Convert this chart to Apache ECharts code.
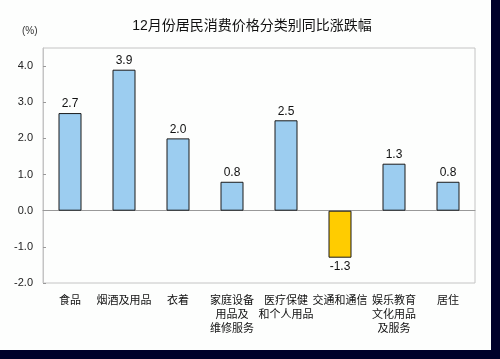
<!DOCTYPE html>
<html><head><meta charset="utf-8">
<script src="https://cdn.jsdelivr.net/npm/echarts@6/dist/echarts.min.js"></script>
<style>
html,body{margin:0;padding:0;background:#00002a;width:500px;height:359px;overflow:hidden}
#c{width:491px;height:350px;background:#fdfefd}
</style></head><body>
<div id="c"></div>
<script>
const categories = ['食品','烟酒及用品','衣着','家庭设备\n用品及\n维修服务','医疗保健\n和个人用品','交通和通信','娱乐教育\n文化用品\n及服务','居住'];
const values = [2.7, 3.9, 2.0, 0.8, 2.5, -1.3, 1.3, 0.8];
const yTicks = [-2, -1, 0, 1, 2, 3, 4];
const titleText = '12月份居民消费价格分类别同比涨跌幅';
const unitText = '(%)';

const font = '"Liberation Sans","Noto Sans CJK SC",sans-serif';
const chart = echarts.init(document.getElementById('c'), null, {renderer:'canvas'});
chart.setOption({
  backgroundColor: '#fdfefd',
  animation: false,
  title: [
    {text: titleText, left: 247, top: 14, textAlign: 'center',
     textStyle: {fontSize: 14, fontWeight: 'normal', color: '#111', fontFamily: font}},
    {text: unitText, left: 17, top: 21,
     textStyle: {fontSize: 10, fontWeight: 'normal', color: '#333', fontFamily: font}}
  ],
  grid: {left: 43, top: 48, right: 16, bottom: 67, show: true, borderColor: '#c4c4c4', borderWidth: 1, backgroundColor: 'transparent'},
  xAxis: {
    type: 'category', data: categories,
    axisLine: {onZero: true, lineStyle: {color: '#999', width: 1}},
    axisTick: {show: false},
    axisLabel: {interval: 0, margin: 11, fontSize: 11, lineHeight: 14, color: '#111', fontFamily: font,
      formatter: v => v},
  },
  yAxis: {
    type: 'value', min: yTicks[0], max: 4.5, interval: 1,
    axisLine: {show: true, lineStyle: {color: '#c4c4c4'}},
    axisTick: {show: true, inside: true, length: 3, lineStyle: {color: '#999'}},
    splitLine: {show: false},
    axisLabel: {showMaxLabel: false, margin: 10, fontSize: 11, color: '#222', fontFamily: font,
      formatter: v => yTicks.includes(v) ? v.toFixed(1) : ''}
  },
  series: [{
    type: 'bar', data: values.map(v => ({
      value: v,
      itemStyle: {color: v < 0 ? '#ffcc00' : '#9ccdf0'},
      label: {position: v < 0 ? 'bottom' : 'top'}
    })),
    barWidth: 23,
    itemStyle: {borderColor: '#1a1a1a', borderWidth: 1},
    label: {show: true, distance: 3, fontSize: 12, color: '#111', fontFamily: font,
      formatter: p => p.value.toFixed(1)}
  }]
});
</script></body></html>
